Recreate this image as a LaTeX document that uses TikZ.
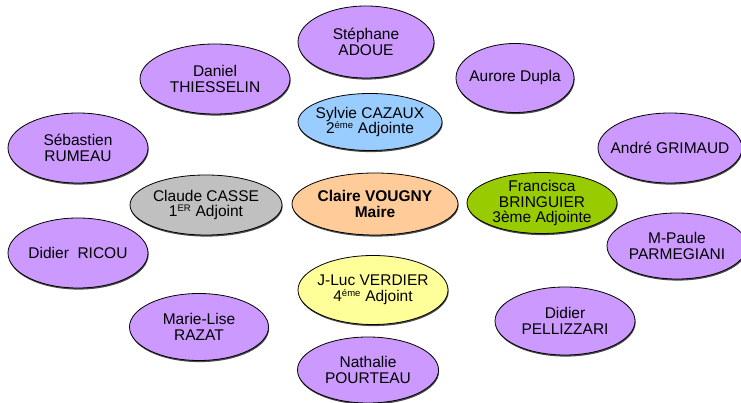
\documentclass[tikz,border=0pt]{standalone}
\usepackage{fontspec}
\setmainfont{Liberation Sans}
\usetikzlibrary{shapes.geometric,shadows}
\definecolor{purp}{HTML}{CC99FF}
\definecolor{blu}{HTML}{99CCFF}
\definecolor{gry}{HTML}{C0C0C0}
\definecolor{ora}{HTML}{FFCC99}
\definecolor{grn}{HTML}{99CC00}
\definecolor{yel}{HTML}{FFFF99}
\newcommand{\sps}[1]{\textsuperscript{\fontsize{9.5}{9.5}\selectfont #1}}
\tikzset{
  oval/.style args={#1x#2}{ellipse, draw=black, line width=0.8pt, inner sep=0pt,
    minimum width=#1pt, minimum height=#2pt,
    drop shadow={shadow xshift=0.6pt, shadow yshift=-1.6pt, fill=black!70, opacity=1}},
  txt/.style={align=center, inner sep=0pt, font=\fontsize{15.5}{15.5}\selectfont},
  pu/.style={fill=purp}
}
\newcommand{\pers}[5]{\node[oval=#1, #2] (#3) at (#4) {}; \node[txt] (#3-t) at (#3) {#5};}
\begin{document}
\begin{tikzpicture}[x=1pt,y=1pt]
\useasboundingbox[fill=white] (0,0) rectangle (741,403);
\pers{136x72}{pu}{adoue}{366,361}{Stéphane\\ADOUE}
\pers{118x69}{pu}{dupla}{515,325}{Aurore Dupla}
\pers{150x70}{pu}{thiesselin}{215,324}{Daniel\\THIESSELIN}
\pers{140x70}{pu}{rumeau}{78,255}{Sébastien\\RUMEAU}
\pers{144x70}{pu}{grimaud}{670,255}{André GRIMAUD}
\pers{140x70}{pu}{ricou}{78,150}{Didier\ \ RICOU}
\pers{140x66}{pu}{parmegiani}{677,157}{M-Paule\\PARMEGIANI}
\pers{139x67}{pu}{razat}{199,76}{Marie-Lise\\RAZAT}
\pers{140x68}{pu}{pellizzari}{565,82}{Didier\\PELLIZZARI}
\pers{141x66}{pu}{pourteau}{368,33}{Nathalie\\POURTEAU}
\pers{144x57}{fill=blu}{cazaux}{370,281}{Sylvie CAZAUX\\2\sps{éme} Adjointe}
\pers{152x60}{fill=gry}{casse}{206,198}{Claude CASSE\\1\sps{ER} Adjoint}
\pers{166x62}{fill=ora}{vougny}{375,199}{\bfseries Claire VOUGNY\\\bfseries Maire}
\pers{150x61}{fill=grn}{bringuier}{542,200}{Francisca\\BRINGUIER\\3ème Adjointe}
\pers{150x69}{fill=yel}{verdier}{373,113}{J-Luc VERDIER\\4\sps{éme} Adjoint}
\end{tikzpicture}
\end{document}
